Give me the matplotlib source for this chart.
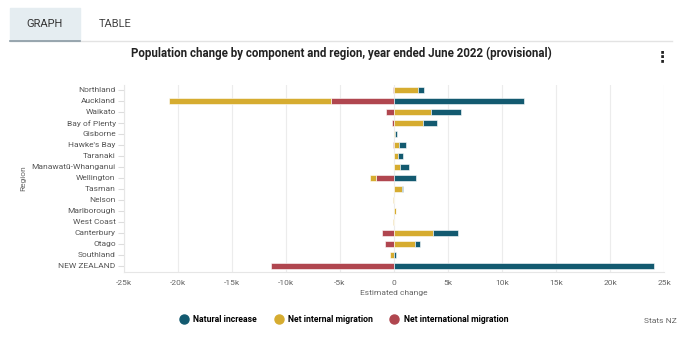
import numpy as np
import matplotlib.pyplot as plt
from matplotlib.patches import Rectangle
from matplotlib.lines import Line2D

plt.rcParams['font.family'] = ['Roboto', 'DejaVu Sans']

regions = ['Northland', 'Auckland', 'Waikato', 'Bay of Plenty', 'Gisborne',
           "Hawke's Bay", 'Taranaki', 'Manawatū-Whanganui', 'Wellington',
           'Tasman', 'Nelson', 'Marlborough', 'West Coast', 'Canterbury',
           'Otago', 'Southland', 'NEW ZEALAND']

# values in thousands
natural_increase = [0.52, 12.0, 2.8, 1.3, 0.25, 0.65, 0.4, 0.77, 2.07,
                    0.05, 0.02, 0.05, 0.02, 2.3, 0.52, 0.2, 24.1]
net_internal = [2.25, -15.0, 3.4, 2.65, 0.05, 0.5, 0.4, 0.6, -0.55,
                0.74, -0.05, 0.15, -0.05, 3.6, 1.9, -0.35, 0.0]
net_international = [-0.12, -5.8, -0.77, -0.2, 0.0, -0.12, 0.0, 0.0, -1.7,
                     0.0, 0.0, 0.0, 0.0, -1.1, -0.83, 0.0, -11.4]

series_names = ['Natural increase', 'Net internal migration', 'Net international migration']
colors = ['#135a70', '#d6ac30', '#b0464f']

fig = plt.figure(figsize=(6.84, 3.44), dpi=100)

# tabs at the top
fig.patches.append(Rectangle((10 / 684, 1 - 41 / 344), 70 / 684, 33 / 344,
                             transform=fig.transFigure, color='#e5edf1', zorder=0))
fig.lines.append(Line2D([10 / 684, 672 / 684], [1 - 41 / 344, 1 - 41 / 344],
                        transform=fig.transFigure, color='#e3e3e3', lw=1))
fig.lines.append(Line2D([10 / 684, 80 / 684], [1 - 41 / 344, 1 - 41 / 344],
                        transform=fig.transFigure, color='#8a9aa4', lw=1.2))
fig.text(45 / 684, 1 - 24 / 344, 'GRAPH', ha='center', va='center', fontsize=8, color='#333333')
fig.text(115 / 684, 1 - 24 / 344, 'TABLE', ha='center', va='center', fontsize=8, color='#444444')

fig.text(341 / 684, 1 - 53 / 344,
         'Population change by component and region, year ended June 2022 (provisional)',
         ha='center', va='center', fontsize=8.3, fontweight='bold', color='#222222')
fig.text(662 / 684, 1 - 57 / 344, '⋮', ha='center', va='center', fontsize=11,
         fontweight='bold', color='#222222')

ax = fig.add_axes([124 / 684, 1 - 272 / 344, 540 / 684, 187 / 344])

y = np.arange(len(regions))
# stack: international closest to zero, then internal, then natural
pos_base = np.zeros(len(regions))
neg_base = np.zeros(len(regions))
for vals, c in zip([net_international, net_internal, natural_increase], colors[::-1]):
    vals = np.array(vals)
    base = np.where(vals >= 0, pos_base, neg_base)
    ax.barh(y, vals, left=base, height=0.5, color=c, edgecolor='white', linewidth=0.4, zorder=3)
    pos_base = pos_base + np.clip(vals, 0, None)
    neg_base = neg_base + np.clip(vals, None, 0)

ax.set_xlim(-25, 25)
ax.set_ylim(16.55, -0.45)
ticks = np.arange(-25, 26, 5)
ax.set_xticks(ticks)
ax.set_xticklabels([('0' if t == 0 else f'{t}k') for t in ticks], fontsize=6, color='#666666')
ax.set_yticks(y)
ax.set_yticklabels(regions, fontsize=6, color='#555555')
ax.tick_params(axis='x', length=0, pad=6)
ax.tick_params(axis='y', length=4, color='#dddddd', pad=2)
ax.grid(axis='x', color='#ececec', lw=0.8, zorder=0)
for s in ['top', 'right']:
    ax.spines[s].set_visible(False)
for s in ['left', 'bottom']:
    ax.spines[s].set_color('#e6e6e6')
ax.set_xlabel('Estimated change', fontsize=6, color='#666666', labelpad=3)
ax.set_ylabel('Region', fontsize=6, color='#666666', labelpad=4)

# legend
handles = [Line2D([], [], marker='o', ls='', markersize=6.5, color=c) for c in colors]
fig.legend(handles, series_names, loc='center', bbox_to_anchor=(344 / 684, 1 - 320 / 344),
           ncol=3, frameon=False, handletextpad=0.6, columnspacing=2.0,
           handlelength=1.0, prop={'weight': 'bold', 'size': 6.2})
fig.text(677 / 684, 1 - 321 / 344, 'Stats NZ', ha='right', va='center', fontsize=6, color='#666666')

fig.savefig('out.png', dpi=100)
